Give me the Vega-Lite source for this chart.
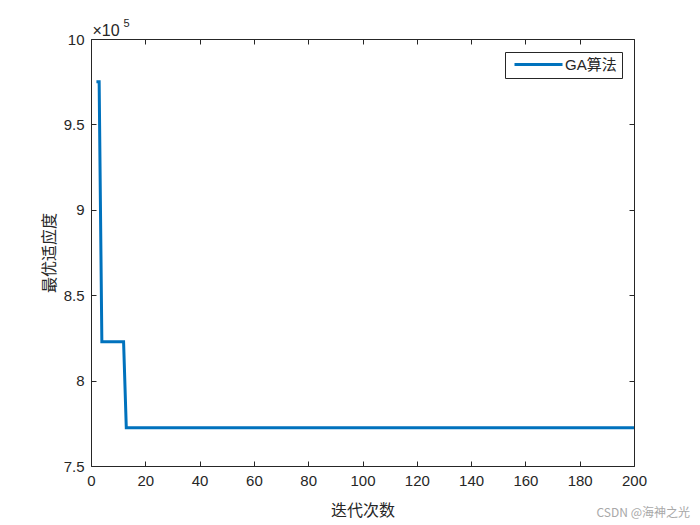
{
  "$schema": "https://vega.github.io/schema/vega-lite/v6.json",
  "width": 543,
  "height": 427,
  "autosize": {"type": "none"},
  "padding": {"left": 91, "top": 39, "right": 66, "bottom": 59},
  "background": "white",
  "config": {"view": {"stroke": null}, "font": "Liberation Sans"},
  "title": {
    "text": "CSDN @海神之光",
    "orient": "bottom",
    "anchor": "end",
    "frame": "group",
    "font": "Noto Sans CJK SC",
    "fontSize": 12,
    "fontWeight": "normal",
    "color": "#a8a8a8",
    "dx": 56,
    "dy": -14
  },
  "data": {
    "values": [
      {"iter": 2, "fitness": 975000},
      {"iter": 3, "fitness": 975000},
      {"iter": 4, "fitness": 822800},
      {"iter": 12, "fitness": 822800},
      {"iter": 13, "fitness": 772400},
      {"iter": 200, "fitness": 772400}
    ]
  },
  "layer": [
    {
      "mark": {"type": "line", "strokeWidth": 3, "color": "#0072BD"},
      "encoding": {
        "x": {
          "field": "iter",
          "type": "quantitative",
          "scale": {"domain": [0, 200], "nice": false},
          "axis": {
            "orient": "bottom",
            "values": [0, 20, 40, 60, 80, 100, 120, 140, 160, 180, 200],
            "grid": false,
            "tickSize": -5,
            "tickColor": "#262626",
            "domainColor": "#262626",
            "labelColor": "#262626",
            "labelFontSize": 15,
            "labelPadding": 12,
            "labelFlush": false,
            "title": "迭代次数",
            "titleFont": "Noto Sans CJK SC",
            "titleFontSize": 16,
            "titleFontWeight": "normal",
            "titleColor": "#262626",
            "titlePadding": 14
          }
        },
        "y": {
          "field": "fitness",
          "type": "quantitative",
          "scale": {"domain": [750000, 1000000], "nice": false, "zero": false},
          "axis": {
            "orient": "left",
            "values": [750000, 800000, 850000, 900000, 950000, 1000000],
            "labelExpr": "datum.value / 100000 + ''",
            "grid": false,
            "tickSize": -5,
            "tickColor": "#262626",
            "domainColor": "#262626",
            "labelColor": "#262626",
            "labelFontSize": 15,
            "labelPadding": 12,
            "labelFlush": false,
            "title": "最优适应度",
            "titleFont": "Noto Sans CJK SC",
            "titleFontSize": 16,
            "titleFontWeight": "normal",
            "titleColor": "#262626",
            "titlePadding": 6
          }
        },
        "color": {
          "datum": "GA算法",
          "scale": {"range": ["#0072BD"]},
          "legend": {
            "title": null,
            "orient": "none",
            "legendX": 414,
            "legendY": 13,
            "symbolType": "M-1,0H15",
            "symbolSize": 36,
            "symbolStrokeWidth": 3,
            "strokeColor": "#262626",
            "fillColor": "white",
            "padding": 5,
            "labelFontSize": 15,
            "labelColor": "#262626",
            "labelFont": "Liberation Sans, Noto Sans CJK SC",
            "labelOffset": 40
          }
        }
      }
    },
    {
      "mark": {"type": "line", "strokeOpacity": 0},
      "encoding": {
        "x": {
          "field": "iter",
          "type": "quantitative",
          "axis": {
            "orient": "top",
            "values": [0, 20, 40, 60, 80, 100, 120, 140, 160, 180, 200],
            "grid": false,
            "labels": false,
            "tickSize": -5,
            "tickColor": "#262626",
            "domainColor": "#262626",
            "title": "×10",
            "titleFont": "Liberation Sans",
            "titleFontSize": 16,
            "titleFontWeight": "normal",
            "titleColor": "#262626",
            "titleAnchor": "start",
            "titleAlign": "left",
            "titleBaseline": "alphabetic",
            "titleX": 1,
            "titleY": -4
          }
        },
        "y": {
          "field": "fitness",
          "type": "quantitative",
          "axis": {
            "orient": "right",
            "values": [750000, 800000, 850000, 900000, 950000, 1000000],
            "grid": false,
            "labels": false,
            "tickSize": -5,
            "tickColor": "#262626",
            "domainColor": "#262626",
            "title": "5",
            "titleFont": "Liberation Sans",
            "titleFontSize": 11,
            "titleFontWeight": "normal",
            "titleColor": "#262626",
            "titleAngle": 0,
            "titleAlign": "left",
            "titleBaseline": "alphabetic",
            "titleX": -511,
            "titleY": -13
          }
        }
      }
    }
  ],
  "resolve": {"axis": {"x": "independent", "y": "independent"}}
}
